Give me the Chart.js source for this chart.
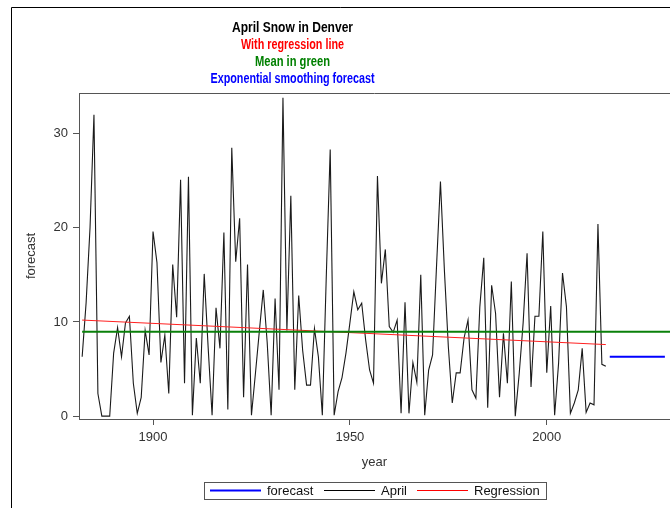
<!DOCTYPE html>
<html>
<head>
<meta charset="utf-8">
<script src="https://cdn.jsdelivr.net/npm/chart.js@4/dist/chart.umd.min.js"></script>
<style>
  html, body { margin: 0; padding: 0; background: #fff; }
  #wrap { width: 670px; height: 508px; }
</style>
</head>
<body>
<div id="wrap"><canvas id="chartSnow" width="670" height="508"></canvas></div>
<script>
// ── Data ──────────────────────────────────────────────
const firstYear = 1882;
const aprilSnow = [
    6.3, 12.0, 20.0, 32.0, 2.4, 0.0, 0.0, 0.0,          // 1882-1889
    6.7, 9.4, 6.3, 9.9, 10.6, 3.5, 0.3, 2.0, 9.1, 6.5,   // 1890s
    19.6, 16.3, 5.7, 8.6, 2.4, 16.1, 10.5, 25.1, 3.5, 25.4, // 1900s
    0.1, 8.3, 3.5, 15.1, 7.3, 0.1, 11.5, 7.2, 19.5, 0.7, // 1910s
    28.5, 16.4, 21.0, 2.0, 16.1, 0.1, 4.5, 9.0, 13.4, 7.8, // 1920s
    0.1, 12.5, 2.8, 33.8, 9.1, 23.4, 2.8, 12.8, 7.0, 3.3, // 1930s
    3.3, 9.3, 6.3, 0.1, 14.8, 28.3, 0.1, 2.6, 4.1, 6.7,  // 1940s
    9.9, 13.2, 11.3, 12.0, 8.1, 4.9, 3.5, 25.5, 14.1, 17.7, // 1950s
    9.5, 8.9, 10.2, 0.3, 12.1, 0.3, 5.7, 3.6, 15.0, 0.1, // 1960s
    4.9, 6.5, 15.9, 24.9, 15.5, 7.4, 1.4, 4.6, 4.6, 8.3, // 1970s
    10.2, 2.8, 1.9, 11.6, 16.8, 0.9, 13.9, 10.9, 2.0, 8.8, // 1980s
    3.5, 14.3, 0.0, 4.5, 9.9, 17.3, 3.1, 10.6, 10.6, 19.6, // 1990s
    4.6, 11.7, 0.1, 5.6, 15.2, 11.6, 0.3, 1.4, 2.8, 7.2, // 2000s
    0.4, 1.4, 1.2, 20.4, 5.5, 5.3                        // 2010-2015
];
const forecastYears    = [2016, 2030];
const forecastValues   = [6.3, 6.3];
const regressionYears  = [1882, 2015];
const regressionValues = [10.2, 7.6];
const meanYears        = [1882, 2032];
const meanValues       = [8.95, 8.95];

const xTicks = [1900, 1950, 2000];
const yTicks = [0, 10, 20, 30];

const titleLines = [
    { text: 'April Snow in Denver',           color: '#000000', width: 121 },
    { text: 'With regression line',           color: '#ff0000', width: 103 },
    { text: 'Mean in green',                  color: '#008000', width: 75 },
    { text: 'Exponential smoothing forecast', color: '#0000ff', width: 164 },
];

const FONT = '"Liberation Sans", Arial, sans-serif';
const pts = (xs, ys) => xs.map((x, i) => ({ x, y: ys[i] }));

// ── Titles, legend, frames ────────────────────────────
const decorPlugin = {
    id: 'decor',
    afterDraw(chart) {
        const { ctx, chartArea: a } = chart;
        ctx.save();

        // plot top border
        ctx.strokeStyle = '#555';
        ctx.lineWidth = 1;
        ctx.beginPath();
        ctx.moveTo(a.left, Math.round(a.top) + 0.5);
        ctx.lineTo(a.right, Math.round(a.top) + 0.5);
        ctx.stroke();

        // outer frame (left + top)
        ctx.strokeStyle = '#000';
        ctx.beginPath();
        ctx.moveTo(11.5, 508);
        ctx.lineTo(11.5, 7.5);
        ctx.lineTo(670, 7.5);
        ctx.stroke();

        // titles
        ctx.font = 'bold 14px ' + FONT;
        ctx.textAlign = 'center';
        ctx.textBaseline = 'middle';
        const ys = [28, 45.5, 62.3, 79.3];
        titleLines.forEach((t, i) => {
            ctx.fillStyle = t.color;
            ctx.fillText(t.text, 292.5, ys[i], t.width);
        });

        // legend
        ctx.strokeStyle = '#555';
        ctx.lineWidth = 1;
        ctx.strokeRect(204.5, 482.5, 342, 17);
        const items = [
            { x: 210, label: 'forecast',   color: '#0000ff', lw: 2 },
            { x: 324, label: 'April',      color: '#000000', lw: 1 },
            { x: 417, label: 'Regression', color: '#ff0000', lw: 1 },
        ];
        ctx.font = '13px ' + FONT;
        ctx.textAlign = 'left';
        ctx.fillStyle = '#111';
        items.forEach(it => {
            ctx.strokeStyle = it.color;
            ctx.lineWidth = it.lw;
            ctx.beginPath();
            ctx.moveTo(it.x, 490.5);
            ctx.lineTo(it.x + 51, 490.5);
            ctx.stroke();
            ctx.fillText(it.label, it.x + 57, 491);
        });

        ctx.restore();
    },
};

// ── Chart ─────────────────────────────────────────────
const aprilYears = aprilSnow.map((_, i) => firstYear + i);

new Chart(document.getElementById('chartSnow').getContext('2d'), {
    type: 'line',
    data: {
        datasets: [
            {
                label: 'Mean',
                data: pts(meanYears, meanValues),
                borderColor: '#0a800a',
                borderWidth: 2,
                order: 0,
            },
            {
                label: 'Regression',
                data: pts(regressionYears, regressionValues),
                borderColor: '#ff2020',
                borderWidth: 1,
                order: 1,
            },
            {
                label: 'forecast',
                data: pts(forecastYears, forecastValues),
                borderColor: '#0000ff',
                borderWidth: 2,
                order: 2,
            },
            {
                label: 'April',
                data: pts(aprilYears, aprilSnow),
                borderColor: '#1a1a1a',
                borderWidth: 1.1,
                order: 3,
            },
        ],
    },
    options: {
        responsive: false,
        animation: false,
        devicePixelRatio: 1,
        elements: {
            point: { radius: 0 },
            line:  { tension: 0 },
        },
        layout: { padding: { top: 93, left: 0, right: 0, bottom: 0 } },
        plugins: {
            legend:  { display: false },
            title:   { display: false },
            tooltip: { enabled: false },
        },
        scales: {
            x: {
                type: 'linear',
                min: 1881.2,
                max: 2031.3,
                afterBuildTicks: s => { s.ticks = xTicks.map(v => ({ value: v })); },
                afterFit: s => { s.height = 89; },
                grid:   { drawOnChartArea: false, tickLength: 6, color: '#555' },
                border: { color: '#555' },
                ticks:  {
                    font: { family: FONT, size: 13 }, color: '#333', padding: 5, maxRotation: 0,
                    callback: v => String(v),
                },
                title:  {
                    display: true, text: 'year', color: '#333',
                    font: { family: FONT, size: 13 }, padding: { top: 0, bottom: 38 },
                },
            },
            y: {
                min: -0.3,
                max: 34.3,
                afterBuildTicks: s => { s.ticks = yTicks.map(v => ({ value: v })); },
                afterFit: s => { s.width = 79; },
                grid:   { drawOnChartArea: false, tickLength: 6, color: '#555' },
                border: { color: '#555' },
                ticks:  {
                    font: { family: FONT, size: 13 }, color: '#333', padding: 5,
                    callback: v => String(v),
                },
                title:  {
                    display: true, text: 'forecast', color: '#333',
                    font: { family: FONT, size: 13 }, padding: { top: 24, bottom: 0 },
                },
            },
        },
    },
    plugins: [decorPlugin],
});
</script>
</body>
</html>
